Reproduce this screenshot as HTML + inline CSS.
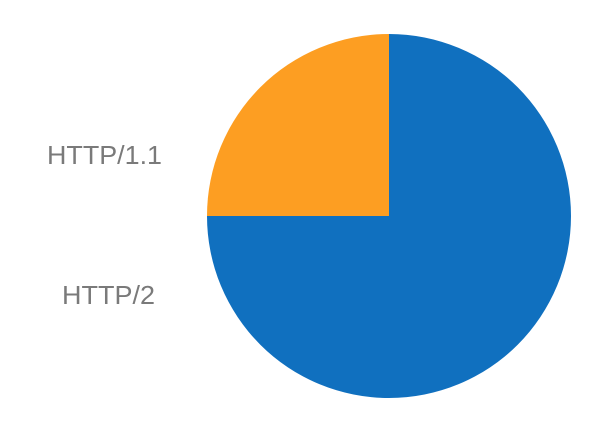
<!DOCTYPE html>
<html><head><meta charset="utf-8">
<style>
html,body{margin:0;padding:0;background:#fff;width:594px;height:432px;overflow:hidden}
svg text{font-family:"Liberation Sans",sans-serif;font-size:26px;fill:#7a7a7a}
</style></head>
<body>
<svg id="chart" width="594" height="432" viewBox="0 0 594 432"></svg>
<script>
const categories = ["HTTP/2", "HTTP/1.1"];
const values = [75, 25];
const colors = ["#1070bf", "#fd9e22"];
const cx = 389, cy = 216, r = 182;
const svg = document.getElementById('chart');
const NS = 'http://www.w3.org/2000/svg';
const total = values.reduce((a,b)=>a+b,0);
let a0 = -Math.PI/2;
values.forEach((v,i)=>{
  const a1 = a0 + v/total*2*Math.PI;
  const x0 = cx + r*Math.cos(a0), y0 = cy + r*Math.sin(a0);
  const x1 = cx + r*Math.cos(a1), y1 = cy + r*Math.sin(a1);
  const large = (a1-a0) > Math.PI ? 1 : 0;
  const p = document.createElementNS(NS,'path');
  p.setAttribute('d', `M${cx},${cy} L${x0},${y0} A${r},${r} 0 ${large} 1 ${x1},${y1} Z`);
  p.setAttribute('fill', colors[i]);
  
  
  svg.appendChild(p);
  a0 = a1;
});
const labelY = {"HTTP/1.1": 164, "HTTP/2": 304};
const labelX = {"HTTP/1.1": 47, "HTTP/2": 62};
const labelW = {"HTTP/1.1": 115, "HTTP/2": 93};
categories.forEach(c=>{
  const t = document.createElementNS(NS,'text');
  t.setAttribute('x', labelX[c]);
  t.setAttribute('y', labelY[c]);
  t.setAttribute('textLength', labelW[c]);
  t.setAttribute('lengthAdjust', 'spacingAndGlyphs');
  t.textContent = c;
  
  
  svg.appendChild(t);
});
</script>
</body></html>
